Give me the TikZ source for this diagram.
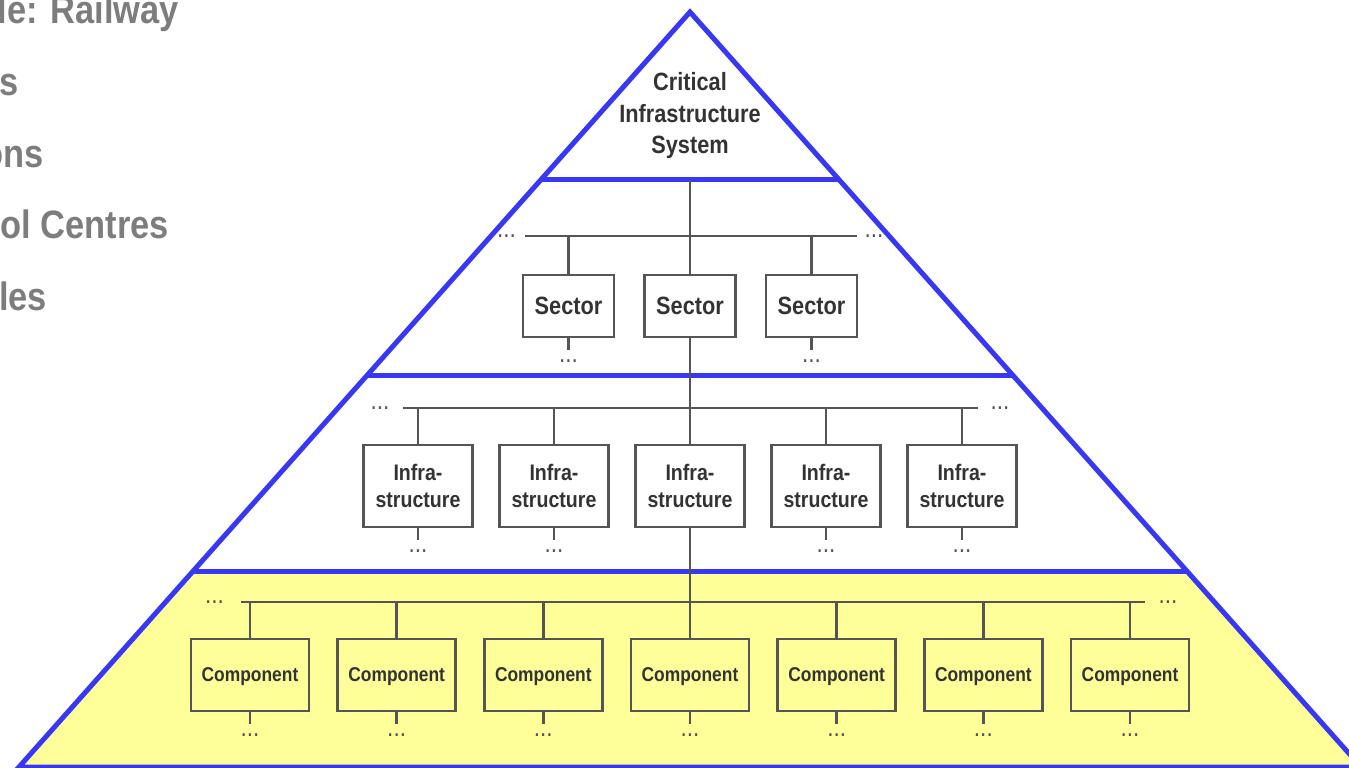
\documentclass[tikz,border=0pt]{standalone}
\usepackage{fontspec}
\newfontfamily\slidefont{Liberation Sans}[FakeStretch=0.87]
\usetikzlibrary{calc}
\definecolor{pyramidblue}{RGB}{55,55,245}
\definecolor{basefill}{RGB}{255,255,153}
\definecolor{wirecolor}{RGB}{85,85,85}
\definecolor{labelcolor}{RGB}{51,51,51}
\definecolor{slidegray}{RGB}{125,125,125}

\begin{document}
\begin{tikzpicture}[
	x=1pt, y=1pt,
	level/.style={draw=pyramidblue, line width=5pt},
	wire/.style={draw=wirecolor, line width=2.4pt},
	box/.style={draw=wirecolor, line width=2.4pt, text=labelcolor, align=center, inner sep=0pt},
	sector/.style={box, minimum width=91pt, minimum height=62pt,
		font=\slidefont\bfseries\fontsize{25}{30}\selectfont},
	infra/.style={box, minimum width=109pt, minimum height=82pt,
		font=\slidefont\bfseries\fontsize{22.5}{27}\selectfont},
	comp/.style={box, minimum width=118pt, minimum height=72pt, text depth=0pt,
		font=\slidefont\bfseries\fontsize{20}{24}\selectfont},
	dots/.style={text=wirecolor, inner sep=0pt, font=\slidefont\fontsize{26}{26}\selectfont},
	slidetext/.style={text=slidegray, inner sep=0pt, anchor=base east,
		font=\slidefont\bfseries\fontsize{39.6}{40}\selectfont},
	every node/.style={outer sep=0pt},
]
\useasboundingbox (0,0) rectangle (1349,-768);
\clip (0,0) rectangle (1349,-768);
% Input 1: Box style.
\def\unitbox#1[#2](#3)#4{
	\node[#1, #2] (#3) {#4};
	\draw[wire] (#3.south) -- ++(0,-12.5) coordinate (#3tail);
	\node[dots, below of=#3tail, node distance=12] (#3dots) {...};
}
% Box on the spine: no dots below it.
\def\spinebox#1[#2](#3)#4{
	\node[#1, #2] (#3) {#4};
}
% \hang{bus}{box}: drop from the bus down to the box.
\def\hang#1#2{
	\draw[wire] (#2.north |- #1) -- (#2.north);
}
	% Pyramid and its levels
	\coordinate (apex) at (690,-12);
	\coordinate (BL) at (19,-767);
	\coordinate (BR) at (1361,-767);
	\coordinate (L1) at ($(apex)!0.2225!(BL)$);
	\coordinate (R1) at ($(apex)!0.2225!(BR)$);
	\coordinate (L2) at ($(apex)!0.4821!(BL)$);
	\coordinate (R2) at ($(apex)!0.4821!(BR)$);
	\coordinate (L3) at ($(apex)!0.7417!(BL)$);
	\coordinate (R3) at ($(apex)!0.7417!(BR)$);
	\fill[basefill] (L3) -- (R3) -- (BR) -- (BL) -- cycle;
	\draw[level] (apex) -- (BR) -- (BL) -- cycle;
	\draw[level] (L1) -- (R1);
	\draw[level] (L2) -- (R2);
	\draw[level] (L3) -- (R3);

	% Cut-off slide text
	\node[slidetext] (TXT1) at (179,-24) {le: Railway};
	\node[slidetext] (TXT2) at (18.5,-95.5) {s};
	\node[slidetext] (TXT3) at (44,-167) {ons};
	\node[slidetext] (TXT4) at (169,-238.5) {ol Centres};
	\node[slidetext] (TXT5) at (47,-310) {les};

	\node[text=labelcolor, align=center, inner sep=0pt,
		font=\slidefont\bfseries\fontsize{25}{31.5}\selectfont]
		(CIS) at (690,-116) {Critical\\Infrastructure\\System};
	\coordinate (spine) at ($(L1)!0.5!(R1)$);

	% Sectors
	\spinebox{sector}[below of=CIS, node distance=190](SEC2){Sector}
	\unitbox{sector}[left of=SEC2, node distance=121.5](SEC1){Sector}
	\unitbox{sector}[right of=SEC2, node distance=121.5](SEC3){Sector}
	\coordinate (SECW) at (525,-236);
	\coordinate (SECE) at (857,-236);
	\draw[wire] (SECW) -- (SECE);
	\node[dots] (SECdotsW) at (506.5,-236) {...};
	\node[dots] (SECdotsE) at (874,-236) {...};
	\hang{SECW}{SEC1}
	\hang{SECW}{SEC3}
	\draw[wire] (spine) -- (SEC2.north);

	% Infrastructures
	\spinebox{infra}[below of=SEC2, node distance=180](INF3){Infra-\\structure}
	\unitbox{infra}[left of=INF3, node distance=136](INF2){Infra-\\structure}
	\unitbox{infra}[left of=INF2, node distance=136](INF1){Infra-\\structure}
	\unitbox{infra}[right of=INF3, node distance=136](INF4){Infra-\\structure}
	\unitbox{infra}[right of=INF4, node distance=136](INF5){Infra-\\structure}
	\coordinate (INFW) at (403,-408);
	\coordinate (INFE) at (978,-408);
	\draw[wire] (INFW) -- (INFE);
	\node[dots] (INFdotsW) at (380,-408) {...};
	\node[dots] (INFdotsE) at (1000,-408) {...};
	\hang{INFW}{INF1}
	\hang{INFW}{INF2}
	\hang{INFW}{INF4}
	\hang{INFW}{INF5}
	\draw[wire] (SEC2.south) -- (INF3.north);

	% Components
	\unitbox{comp}[below of=INF3, node distance=189](CMP4){Component}
	\unitbox{comp}[left of=CMP4, node distance=146.67](CMP3){Component}
	\unitbox{comp}[left of=CMP3, node distance=146.67](CMP2){Component}
	\unitbox{comp}[left of=CMP2, node distance=146.67](CMP1){Component}
	\unitbox{comp}[right of=CMP4, node distance=146.67](CMP5){Component}
	\unitbox{comp}[right of=CMP5, node distance=146.67](CMP6){Component}
	\unitbox{comp}[right of=CMP6, node distance=146.67](CMP7){Component}
	\coordinate (CMPW) at (241,-602);
	\coordinate (CMPE) at (1145,-602);
	\draw[wire] (CMPW) -- (CMPE);
	\node[dots] (CMPdotsW) at (214.5,-602) {...};
	\node[dots] (CMPdotsE) at (1168,-602) {...};
	\hang{CMPW}{CMP1}
	\hang{CMPW}{CMP2}
	\hang{CMPW}{CMP3}
	\hang{CMPW}{CMP5}
	\hang{CMPW}{CMP6}
	\hang{CMPW}{CMP7}
	\draw[wire] (INF3.south) -- (CMP4.north);
\end{tikzpicture}
\end{document}
